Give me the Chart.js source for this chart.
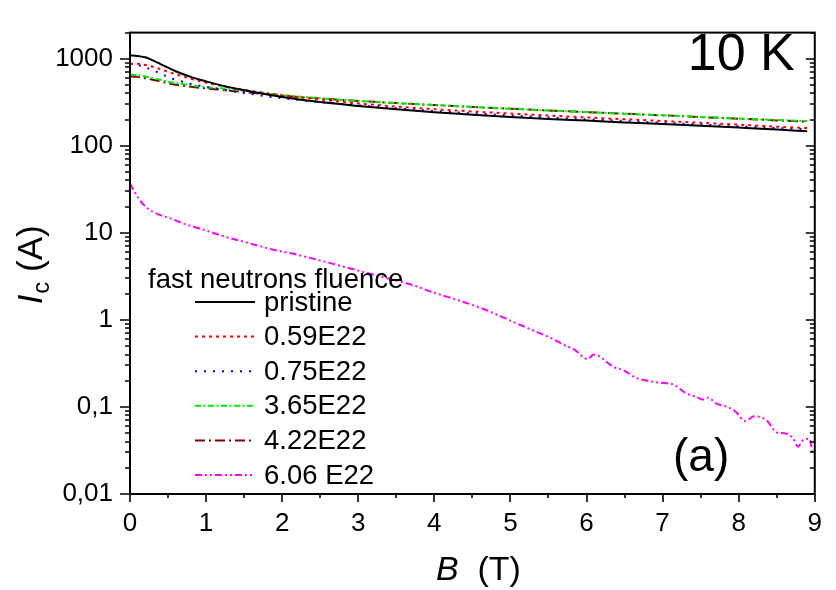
<!DOCTYPE html>
<html>
<head>
<meta charset="utf-8">
<script src="https://cdn.jsdelivr.net/npm/chart.js@4.4.1/dist/chart.umd.min.js"></script>
<style>
  html, body { margin: 0; padding: 0; background: #fff; }
  #wrap { width: 836px; height: 590px; }
</style>
</head>
<body>
<div id="wrap"><canvas id="chart" width="836" height="590"></canvas></div>
<script>
// Magnetic field B (T) for the five upper curves
const fieldB = [0, 0.1, 0.2, 0.3, 0.4, 0.5, 0.6, 0.8, 1.0, 1.2, 1.5, 2, 2.5, 3, 3.5, 4, 4.5, 5, 5.5, 6, 6.5, 7, 7.5, 8, 8.5, 8.9];

// Critical current Ic (A) for each fluence
const icPristine = [1090, 1080, 1040, 960, 870, 790, 720, 620, 550, 495, 435, 365, 318, 287, 263, 243, 228, 215, 204, 195, 186, 178, 170, 162, 154, 147];
const ic059 = [880, 875, 850, 810, 760, 710, 665, 590, 532, 488, 440, 380, 340, 307, 283, 264, 248, 235, 223, 212, 202, 193, 184, 175, 166, 160];
const ic075 = [870, 850, 800, 735, 680, 615, 575, 515, 475, 445, 405, 352, 318, 292, 270, 251, 236, 223, 212, 202, 193, 184, 176, 168, 160, 155];
const ic365 = [660, 650, 625, 600, 575, 545, 527, 497, 472, 458, 430, 384, 352, 328, 310, 294, 280, 267, 255, 244, 234, 224, 215, 206, 198, 193];
const ic422 = [630, 620, 598, 575, 552, 522, 503, 478, 457, 440, 414, 377, 350, 328, 310, 294, 280, 267, 255, 244, 234, 224, 214, 205, 196, 190];

// Highest fluence sample, its own field grid
const fieldB606 = [0, 0.1, 0.19, 0.3, 0.4, 0.55, 0.7, 0.9, 1.05, 1.2, 1.5, 1.84, 2.2, 2.53, 2.85, 3.18, 3.45, 3.7, 4.0, 4.3, 4.68, 5.0, 5.25, 5.54, 5.7, 5.85, 6.01, 6.1, 6.35, 6.5, 6.65, 6.8, 6.95, 7.15, 7.3, 7.45, 7.53, 7.6, 7.7, 7.85, 7.95, 8.09, 8.2, 8.37, 8.5, 8.6, 8.72, 8.78, 8.85, 8.93, 8.97];
const ic606 = [37, 26, 20.6, 17.5, 16, 14.5, 12.8, 11.3, 10.3, 9.3, 7.9, 6.55, 5.6, 4.74, 4.0, 3.34, 2.9, 2.54, 2.05, 1.7, 1.30, 0.98, 0.79, 0.615, 0.52, 0.45, 0.356, 0.40, 0.29, 0.26, 0.216, 0.2, 0.191, 0.18, 0.145, 0.13, 0.122, 0.128, 0.11, 0.1, 0.09, 0.069, 0.078, 0.07, 0.051, 0.05, 0.043, 0.035, 0.042, 0.043, 0.03];

const seriesLabels = ['pristine', '0.59E22', '0.75E22', '3.65E22', '4.22E22', '6.06 E22'];
const xTickValues = [0, 1, 2, 3, 4, 5, 6, 7, 8, 9];
const yTickValues = [0.01, 0.1, 1, 10, 100, 1000];
const yTickLabels = ['0,01', '0,1', '1', '10', '100', '1000'];

const FONT = '"Liberation Sans", Arial, Helvetica, sans-serif';

function pts(xs, ys) { return xs.map((b, i) => ({ x: b, y: ys[i] })); }

function line(label, data, color, dash) {
  return {
    label, data,
    borderColor: color, backgroundColor: color,
    borderWidth: 2, borderDash: dash,
    pointRadius: 0, fill: false,
    cubicInterpolationMode: 'monotone'
  };
}

const datasets = [
  line(seriesLabels[0], pts(fieldB, icPristine), '#000000', []),
  line(seriesLabels[1], pts(fieldB, ic059), '#ff0000', [3, 4]),
  line(seriesLabels[2], pts(fieldB, ic075), '#0000ff', [2, 7]),
  line(seriesLabels[3], pts(fieldB, ic365), '#00ee00', [6, 2.5, 2, 2.5]),
  line(seriesLabels[4], pts(fieldB, ic422), '#800000', [10, 4, 2, 4]),
  line(seriesLabels[5], pts(fieldB606, ic606), '#ff00ff', [7, 3, 2, 3, 2, 3])
];

// Frame, tick marks, axis titles, legend and annotations
const decorations = {
  id: 'decorations',
  afterDatasetsDraw(chart) {
    const { ctx, chartArea: a, scales: { x, y } } = chart;
    ctx.save();
    ctx.strokeStyle = '#000';
    ctx.lineWidth = 2;
    ctx.strokeRect(a.left, a.top, a.right - a.left, a.bottom - a.top);

    ctx.beginPath();
    ctx.lineWidth = 1.6;
    for (let v = 0; v <= 9.001; v += 0.5) {
      const px = Math.round(x.getPixelForValue(v));
      const major = Math.abs(v - Math.round(v)) < 1e-6;
      ctx.moveTo(px, a.bottom);
      ctx.lineTo(px, a.bottom + (major ? 8 : 4));
    }
    for (let e = -2; e <= 3; e++) {
      for (let m = 1; m <= 9; m++) {
        const v = m * Math.pow(10, e);
        if (v > y.max) break;
        const py = Math.round(y.getPixelForValue(v));
        const major = m === 1;
        ctx.moveTo(a.left, py);
        ctx.lineTo(a.left - (major ? 10 : 5), py);
        ctx.moveTo(a.right, py);
        ctx.lineTo(a.right - (major ? 9 : 5), py);
      }
    }
    ctx.stroke();

    ctx.fillStyle = '#000';
    ctx.textBaseline = 'alphabetic';

    // x axis title: B (T)
    const cx = (a.left + a.right) / 2 + 6;
    ctx.font = 'italic 34px ' + FONT;
    const wB = ctx.measureText('B').width;
    ctx.font = '34px ' + FONT;
    const wT = ctx.measureText('  (T)').width;
    const sx = cx - (wB + wT) / 2;
    const by = 580;
    ctx.font = 'italic 34px ' + FONT;
    ctx.fillText('B', sx, by);
    ctx.font = '34px ' + FONT;
    ctx.fillText('  (T)', sx + wB, by);

    // y axis title: Ic (A)
    ctx.save();
    const cy = (a.top + a.bottom) / 2 + 2;
    ctx.translate(42, cy);
    ctx.rotate(-Math.PI / 2);
    ctx.font = 'italic 35px ' + FONT;
    const wI = ctx.measureText('I').width;
    ctx.font = '24px ' + FONT;
    const wc = ctx.measureText('c').width;
    ctx.font = '35px ' + FONT;
    const wA = ctx.measureText(' (A)').width;
    const tx = -(wI + wc + wA) / 2;
    ctx.font = 'italic 35px ' + FONT;
    ctx.fillText('I', tx, 0);
    ctx.font = '24px ' + FONT;
    ctx.fillText('c', tx + wI + 1, 7);
    ctx.font = '35px ' + FONT;
    ctx.fillText(' (A)', tx + wI + wc + 1, 0);
    ctx.restore();

    // annotations
    ctx.font = '52px ' + FONT;
    ctx.textAlign = 'right';
    ctx.fillText('10 K', a.right - 20, 70);
    ctx.font = '46px ' + FONT;
    ctx.textAlign = 'left';
    ctx.fillText('(a)', 673, 471);

    // legend
    ctx.font = '27.5px ' + FONT;
    ctx.textBaseline = 'middle';
    ctx.fillText('fast neutrons fluence', 148, 280);
    chart.data.datasets.forEach((ds, i) => {
      const ly = 302 + i * 34.6;
      ctx.save();
      ctx.strokeStyle = ds.borderColor;
      ctx.lineWidth = ds.borderWidth;
      ctx.setLineDash(ds.borderDash || []);
      ctx.beginPath();
      ctx.moveTo(195, ly);
      ctx.lineTo(255, ly);
      ctx.stroke();
      ctx.restore();
      ctx.fillStyle = '#000';
      ctx.fillText(ds.label, 264, ly + 1);
    });
    ctx.restore();
  }
};

new Chart(document.getElementById('chart'), {
  type: 'line',
  data: { datasets },
  options: {
    responsive: false,
    devicePixelRatio: 1,
    animation: false,
    events: [],
    layout: { padding: { left: 0, right: 7, top: 6, bottom: 0 } },
    plugins: { legend: { display: false }, tooltip: { enabled: false } },
    scales: {
      x: {
        type: 'linear', position: 'bottom', min: 0, max: 9,
        grid: { display: false, drawTicks: false },
        border: { display: false },
        afterBuildTicks: (s) => { s.ticks = xTickValues.map(v => ({ value: v })); },
        afterFit: (s) => { s.height = 96; },
        ticks: { color: '#000', padding: 14, maxRotation: 0, font: { family: FONT, size: 26 } }
      },
      y: {
        type: 'logarithmic', position: 'left', min: 0.01, max: 2000,
        grid: { display: false, drawTicks: false },
        border: { display: false },
        afterBuildTicks: (s) => { s.ticks = yTickValues.map(v => ({ value: v, major: true })); },
        afterFit: (s) => { s.width = 130; },
        ticks: {
          color: '#000', padding: 17, font: { family: FONT, size: 26 },
          callback: (v, i) => yTickLabels[i]
        }
      }
    }
  },
  plugins: [decorations]
});
</script>
</body>
</html>
